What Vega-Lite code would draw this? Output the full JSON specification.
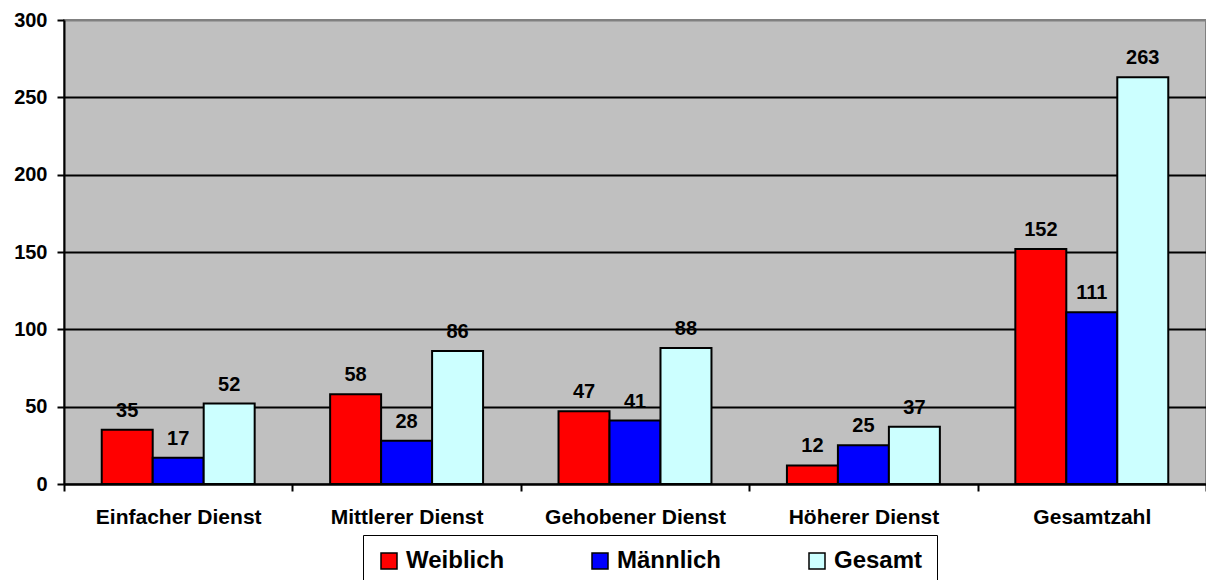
{
  "$schema": "https://vega.github.io/schema/vega-lite/v6.json",
  "width": 1142,
  "height": 464,
  "autosize": "none",
  "padding": {"left": 64, "top": 20, "right": 0, "bottom": 96},
  "background": "white",
  "config": {
    "font": "Liberation Sans",
    "view": {"fill": "#C0C0C0", "stroke": "#808080", "strokeWidth": 2}
  },
  "data": {
    "values": [
      {"Dienst": "Einfacher Dienst", "Gruppe": "Weiblich", "Anzahl": 35},
      {"Dienst": "Einfacher Dienst", "Gruppe": "Männlich", "Anzahl": 17},
      {"Dienst": "Einfacher Dienst", "Gruppe": "Gesamt", "Anzahl": 52},
      {"Dienst": "Mittlerer Dienst", "Gruppe": "Weiblich", "Anzahl": 58},
      {"Dienst": "Mittlerer Dienst", "Gruppe": "Männlich", "Anzahl": 28},
      {"Dienst": "Mittlerer Dienst", "Gruppe": "Gesamt", "Anzahl": 86},
      {"Dienst": "Gehobener Dienst", "Gruppe": "Weiblich", "Anzahl": 47},
      {"Dienst": "Gehobener Dienst", "Gruppe": "Männlich", "Anzahl": 41},
      {"Dienst": "Gehobener Dienst", "Gruppe": "Gesamt", "Anzahl": 88},
      {"Dienst": "Höherer Dienst", "Gruppe": "Weiblich", "Anzahl": 12},
      {"Dienst": "Höherer Dienst", "Gruppe": "Männlich", "Anzahl": 25},
      {"Dienst": "Höherer Dienst", "Gruppe": "Gesamt", "Anzahl": 37},
      {"Dienst": "Gesamtzahl", "Gruppe": "Weiblich", "Anzahl": 152},
      {"Dienst": "Gesamtzahl", "Gruppe": "Männlich", "Anzahl": 111},
      {"Dienst": "Gesamtzahl", "Gruppe": "Gesamt", "Anzahl": 263}
    ]
  },
  "encoding": {
    "x": {
      "field": "Dienst",
      "type": "nominal",
      "sort": null,
      "scale": {"paddingInner": 0, "paddingOuter": 0},
      "axis": {
        "title": null,
        "labelAngle": 0,
        "labelFont": "Liberation Sans",
        "labelFontSize": 21,
        "labelFontWeight": "bold",
        "labelColor": "black",
        "labelPadding": 15,
        "labelLimit": 400,
        "tickBand": "extent",
        "tickSize": 7,
        "tickWidth": 2,
        "tickColor": "black",
        "domainColor": "black",
        "domainWidth": 2
      }
    },
    "xOffset": {
      "field": "Gruppe",
      "type": "nominal",
      "sort": ["Weiblich", "Männlich", "Gesamt"],
      "scale": {"paddingInner": 0, "paddingOuter": 0.74}
    },
    "y": {
      "field": "Anzahl",
      "type": "quantitative",
      "scale": {"domain": [0, 300], "nice": false},
      "axis": {
        "title": null,
        "values": [0, 50, 100, 150, 200, 250, 300],
        "labelFont": "Liberation Sans",
        "labelFontSize": 20,
        "labelFontWeight": "bold",
        "labelColor": "black",
        "labelPadding": 10,
        "tickSize": 7,
        "tickWidth": 2,
        "tickColor": "black",
        "domainColor": "black",
        "domainWidth": 2,
        "grid": true,
        "gridColor": {"condition": {"test": "datum.value === 300", "value": "#808080"}, "value": "black"},
        "gridWidth": 2,
        "gridOpacity": 1
      }
    }
  },
  "layer": [
    {
      "mark": {"type": "bar", "stroke": "black", "strokeWidth": 2},
      "encoding": {
        "color": {
          "field": "Gruppe",
          "type": "nominal",
          "scale": {"domain": ["Weiblich", "Männlich", "Gesamt"], "range": ["#FF0000", "#0000FF", "#CCFFFF"]},
          "legend": {
            "title": null,
            "orient": "none",
            "legendX": 299,
            "legendY": 515,
            "direction": "horizontal",
            "fillColor": "white",
            "strokeColor": "black",
            "padding": 14,
            "columnPadding": 83,
            "symbolType": "square",
            "symbolSize": 256,
            "symbolStrokeColor": "black",
            "symbolStrokeWidth": 1.5,
            "symbolOpacity": 1,
            "symbolOffset": 0,
            "labelOffset": 5,
            "labelFont": "Liberation Sans",
            "labelFontSize": 24,
            "labelFontWeight": "bold",
            "labelColor": "black"
          }
        }
      }
    },
    {
      "mark": {"type": "text", "baseline": "bottom", "dy": -9, "font": "Liberation Sans", "fontSize": 20, "fontWeight": "bold", "color": "black"},
      "encoding": {
        "text": {"field": "Anzahl", "type": "quantitative"}
      }
    }
  ]
}
